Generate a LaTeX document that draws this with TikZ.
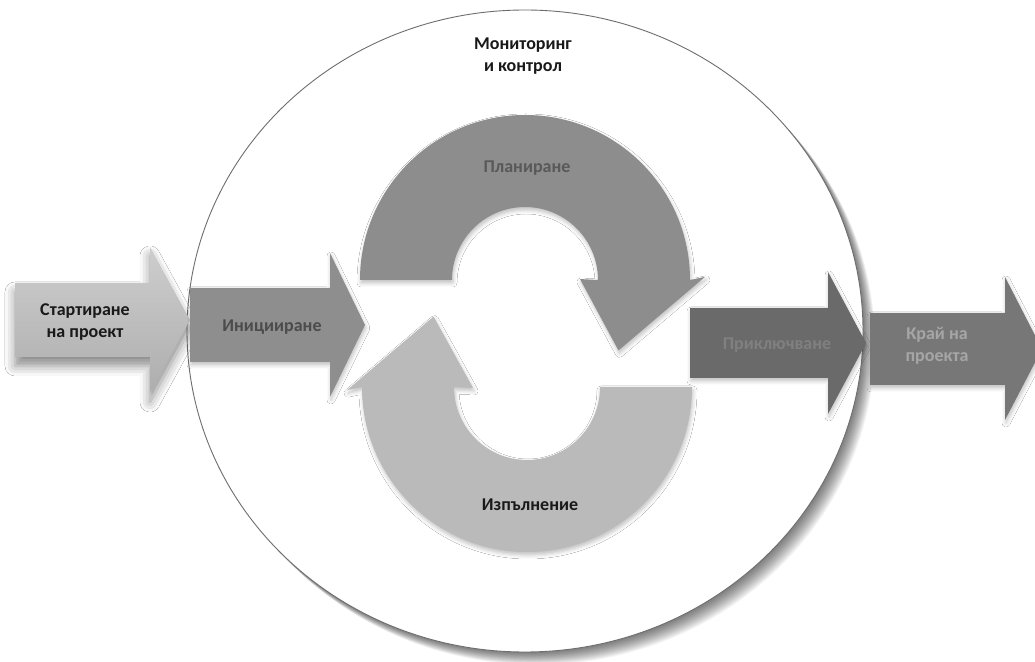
\documentclass[tikz,border=0pt]{standalone}
\usepackage{fontspec}
\setmainfont{Carlito}
\usetikzlibrary{calc,shadows.blur}

\definecolor{startfill}{HTML}{BDBDBD}
\definecolor{initfill}{HTML}{8E8E8E}
\definecolor{planfill}{HTML}{8D8D8D}
\definecolor{execfill}{HTML}{BABABA}
\definecolor{closefill}{HTML}{6A6A6A}
\definecolor{endfill}{HTML}{777777}
\definecolor{ringline}{HTML}{6E6E6E}

\begin{document}
\begin{tikzpicture}[x=1pt,y=1pt,
  lbl/.style={font=\bfseries\fontsize{18}{22}\selectfont, align=center, inner sep=0pt},
  softshadow/.style={blur shadow={shadow xshift=1pt, shadow yshift=-3pt,
      shadow blur radius=4pt, shadow opacity=25}},
  startshadow/.style={blur shadow={shadow xshift=0pt, shadow yshift=-9pt,
      shadow blur radius=10pt, shadow opacity=45}},
  blockarrow/.style={draw=none},
]
\useasboundingbox (0,0) rectangle (1035,661);
\fill[white] (0,0) rectangle (1035,661);

% centres of the ring and of the two cycle arrows
\coordinate (O) at (525,330);
\coordinate (P) at (525,381);
\coordinate (E) at (527,274);

% soft shadow of the ring, towards the lower right
\foreach \k in {1,...,16}
  \fill[black, opacity=0.04] ($(O)+(0.75*\k,-0.8*\k)$) ellipse [x radius=338, y radius=321];

% monitoring ring
\draw[draw=ringline, line width=0.9pt, fill=white]
  (O) ellipse [x radius=338, y radius=321];

% start of project
\path[blockarrow, top color=startfill!75!white, bottom color=startfill!92!black, startshadow]
  (15,378) -- (150,378) -- (150,414) -- (190,341) -- (150,268) -- (150,304) -- (15,304) -- cycle;

% initiation
\path[blockarrow, fill=initfill, softshadow]
  (190,373) -- (330,373) -- (330,408) -- (365,336) -- (330,264) -- (330,299) -- (190,299) -- cycle;

% planning: upper half ring turning down to the right
\path[fill=planfill, softshadow]
  ($(P)+(180:73)$) -- ($(P)+(180:165)$) arc[start angle=180, end angle=0, radius=165]
  -- ($(P)+(1:180)$) -- ($(P)+(-37:117)$) -- ($(P)+(1:55)$) -- ($(P)+(0:73)$)
  arc[start angle=0, end angle=180, radius=73] -- cycle;

% execution: lower half ring turning up to the left
\path[fill=execfill, softshadow]
  ($(E)+(0:73)$) -- ($(E)+(0:165)$) arc[start angle=0, end angle=-180, radius=165]
  -- ($(E)+(181:180)$) -- ($(E)+(143:117)$) -- ($(E)+(181:54)$) -- ($(E)+(180:73)$)
  arc[start angle=180, end angle=360, radius=73] -- cycle;

% closing
\path[blockarrow, fill=closefill, softshadow]
  (690,353) -- (828,353) -- (828,389) -- (866,318) -- (828,247) -- (828,283) -- (690,283) -- cycle;

% end of project
\path[blockarrow, fill=endfill, softshadow]
  (870,348) -- (1005,348) -- (1005,384) -- (1042,312) -- (1005,241) -- (1005,276) -- (870,276) -- cycle;

% labels
\node[lbl, text=black!90] (mon) at (523,605) {Мониторинг\\и контрол};
\node[lbl, text=black!65] (plan) at (527,493) {Планиране};
\node[lbl, text=black!90] (exec) at (530,156) {Изпълнение};
\node[lbl, text=black!90] (start) at (85,339) {Стартиране\\на проект};
\node[lbl, text=black!70] (init) at (272,334) {Иницииране};
\node[lbl, text=black!50] (close) at (777,316) {Приключване};
\node[lbl, text=black!35] (end) at (937,315) {Край на\\проекта};
\end{tikzpicture}
\end{document}
